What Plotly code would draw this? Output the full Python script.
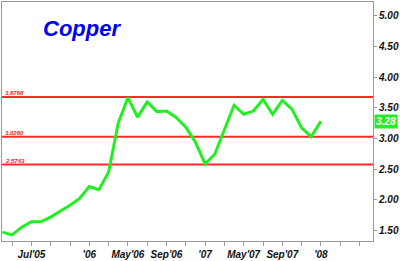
import plotly.graph_objects as go

# Monthly copper price (USD/lb), Apr'05 .. Jan'08
months = ["Apr'05", "May'05", "Jun'05", "Jul'05", "Aug'05", "Sep'05", "Oct'05", "Nov'05", "Dec'05",
          "Jan'06", "Feb'06", "Mar'06", "Apr'06", "May'06", "Jun'06", "Jul'06", "Aug'06", "Sep'06",
          "Oct'06", "Nov'06", "Dec'06",
          "Jan'07", "Feb'07", "Mar'07", "Apr'07", "May'07", "Jun'07", "Jul'07", "Aug'07", "Sep'07",
          "Oct'07", "Nov'07", "Dec'07",
          "Jan'08"]
prices = [1.47, 1.425, 1.551, 1.641, 1.641, 1.716, 1.815, 1.910, 2.02,
          2.215, 2.163, 2.452, 3.253, 3.665, 3.348, 3.596, 3.438, 3.447, 3.343, 3.185, 2.937,
          2.585, 2.742, 3.14, 3.542, 3.395, 3.447, 3.637, 3.395, 3.62, 3.479, 3.174, 3.03,
          3.28]
first_month_index = 3  # Apr'05 counted from Jan'05

levels = [3.6768, 3.0260, 2.5743]
level_labels = ["3.6768", "3.0260", "2.5743"]

tick_positions = list(range(4, 41, 2))
tick_label_map = {6: "Jul'05", 12: "'06", 16: "May'06", 20: "Sep'06",
                  24: "'07", 28: "May'07", 32: "Sep'07", 36: "'08"}
ytick_vals = [1.5, 2.0, 2.5, 3.0, 3.5, 4.0, 4.5, 5.0]
ytick_text = ["1.50", "2.00", "2.50", "3.00", "3.50", "4.00", "4.50", "5.00"]

x_vals = [first_month_index + i for i in range(len(prices))]

fig = go.Figure()
for lv in levels:
    fig.add_shape(type="line", xref="paper", x0=0, x1=1, yref="y", y0=lv, y1=lv,
                  line=dict(color="#ff2a2a", width=2), layer="below")
for lv, lab in zip(levels, level_labels):
    fig.add_annotation(xref="paper", x=0.002, xanchor="left", yref="y", y=lv, yanchor="bottom",
                       yshift=-1, text="<b><i>" + lab + "</i></b>", showarrow=False,
                       font=dict(family="Liberation Sans, Arial", size=6, color="#f02020"))

fig.add_trace(go.Scatter(x=x_vals, y=prices, mode="lines",
                         line=dict(color="#22ee22", width=3), hoverinfo="skip"))

fig.add_annotation(xref="paper", x=1.0, xanchor="left", yref="y", y=prices[-1], yanchor="middle",
                   text="<b><i>%.2f</i></b>" % prices[-1], showarrow=False, bgcolor="#22ee22",
                   font=dict(family="Liberation Sans, Arial", size=10, color="white"),
                   borderpad=1, xshift=1)

fig.add_annotation(xref="paper", x=0.105, xanchor="left", yref="paper", y=0.89, yanchor="middle",
                   text="<b><i>Copper</i></b>", showarrow=False,
                   font=dict(family="Liberation Sans, Arial", size=22, color="#0000ee"))

fig.update_xaxes(range=[2.95, 41.4], tickmode="array", tickvals=tick_positions,
                 ticktext=["<b><i>%s</i></b>" % tick_label_map[t] if t in tick_label_map else ""
                           for t in tick_positions],
                 ticks="outside", ticklen=4, tickcolor="#999999", showgrid=False, zeroline=False,
                 showline=True, linecolor="#999999", linewidth=1, mirror=True,
                 tickfont=dict(family="Liberation Sans, Arial", size=10, color="#111111"))
fig.update_yaxes(range=[1.325, 5.228], side="right", tickmode="array", tickvals=ytick_vals,
                 ticktext=["<b><i>%s</i></b>" % t for t in ytick_text],
                 ticks="outside", ticklen=3, tickcolor="#999999", showgrid=False, zeroline=False,
                 showline=True, linecolor="#999999", linewidth=1, mirror=True,
                 tickfont=dict(family="Liberation Sans, Arial", size=10, color="#111111"))

fig.update_layout(width=400, height=261, margin=dict(l=1, r=21, t=1, b=14),
                  paper_bgcolor="white", plot_bgcolor="white", showlegend=False)

fig.write_html("out.html")
